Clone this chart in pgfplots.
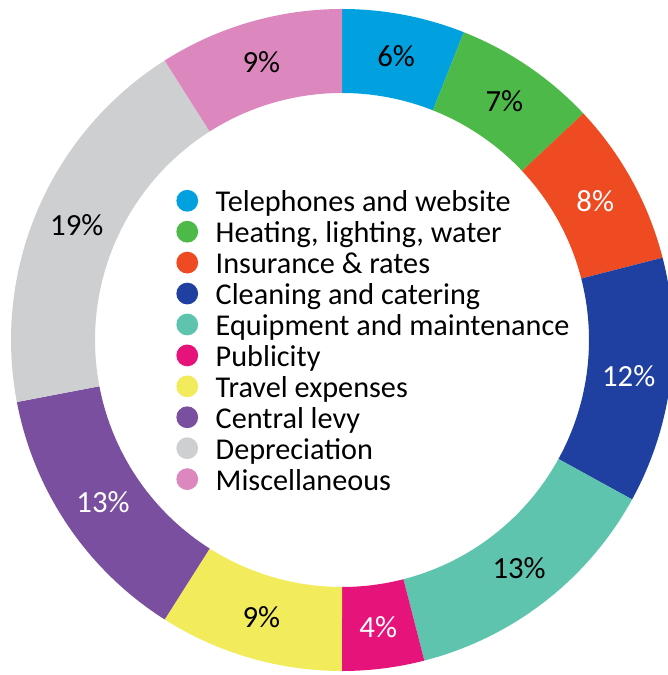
\documentclass[border=0pt]{standalone}
\usepackage{fontspec}
\setmainfont{Carlito}
\usepackage{pgfplots}
\pgfplotsset{compat=1.18}
\usepgfplotslibrary{fillbetween}
\definecolor{cTel}{RGB}{0,161,222}
\definecolor{cHeat}{RGB}{77,185,72}
\definecolor{cIns}{RGB}{238,75,35}
\definecolor{cClean}{RGB}{31,64,160}
\definecolor{cEquip}{RGB}{95,196,174}
\definecolor{cPub}{RGB}{230,19,122}
\definecolor{cTravel}{RGB}{242,236,92}
\definecolor{cLevy}{RGB}{122,79,160}
\definecolor{cDep}{RGB}{205,207,208}
\definecolor{cMisc}{RGB}{220,136,191}
% #1 start (cumulative %), #2 end (cumulative %), #3 name, #4 colour
\newcommand{\slice}[4]{%
  \addplot[draw=none, name path=o#3, domain={90-3.6*(#2)}:{90-3.6*(#1)}, samples=90, forget plot] ({331*cos(x)},{331*sin(x)});
  \addplot[draw=none, name path=i#3, domain={90-3.6*(#2)}:{90-3.6*(#1)}, samples=90, forget plot] ({247*cos(x)},{247*sin(x)});
  \addplot[fill=#4, draw=none, forget plot] fill between[of=o#3 and i#3];
}
\newcommand{\slabel}[4]{%
  \node[text=#4, font=\fontsize{17.5}{20}\selectfont, inner sep=0pt] at (axis cs:{289*cos(90-1.8*(#1+#2))},{289*sin(90-1.8*(#1+#2))}) {#3};
}
\begin{document}
\begin{tikzpicture}
\begin{axis}[
  scale only axis, width=13.36cm, height=13.5cm,
  xmin=-342, xmax=326, ymin=-335, ymax=340,
  hide axis, clip=true,
  legend cell align=left,
  legend image code/.code={\fill[#1, draw=none] (0pt,2pt) circle (6.2pt);},
  legend style={at={(axis cs:-166,151)}, anchor=north west, draw=none, fill=none,
    inner sep=0pt, font=\fontsize{17.2}{20}\selectfont, row sep=0.6pt,
    nodes={inner xsep=0pt, inner ysep=0pt, text height=12.7pt, text depth=4.3pt},
    /tikz/every odd column/.style={column sep=10pt}},
]
\slice{0}{6}{A}{cTel}
\slice{6}{13}{B}{cHeat}
\slice{13}{21}{C}{cIns}
\slice{21}{33}{D}{cClean}
\slice{33}{46}{E}{cEquip}
\slice{46}{50}{F}{cPub}
\slice{50}{59}{G}{cTravel}
\slice{59}{72}{H}{cLevy}
\slice{72}{91}{I}{cDep}
\slice{91}{100}{J}{cMisc}
\slabel{0}{6}{6\%}{black}
\slabel{6}{13}{7\%}{black}
\slabel{13}{21}{8\%}{white}
\slabel{21}{33}{12\%}{white}
\slabel{33}{46}{13\%}{black}
\slabel{46}{50}{4\%}{white}
\slabel{50}{59}{9\%}{black}
\slabel{59}{72}{13\%}{white}
\slabel{72}{91}{19\%}{black}
\slabel{91}{100}{9\%}{black}
\addlegendimage{fill=cTel}\addlegendentry{Telephones and website}
\addlegendimage{fill=cHeat}\addlegendentry{Heating, lighting, water}
\addlegendimage{fill=cIns}\addlegendentry{Insurance \& rates}
\addlegendimage{fill=cClean}\addlegendentry{Cleaning and catering}
\addlegendimage{fill=cEquip}\addlegendentry{Equipment and maintenance}
\addlegendimage{fill=cPub}\addlegendentry{Publicity}
\addlegendimage{fill=cTravel}\addlegendentry{Travel expenses}
\addlegendimage{fill=cLevy}\addlegendentry{Central levy}
\addlegendimage{fill=cDep}\addlegendentry{Depreciation}
\addlegendimage{fill=cMisc}\addlegendentry{Miscellaneous}
\end{axis}
\pgfresetboundingbox
\path (current axis.south west) rectangle (current axis.north east);
\end{tikzpicture}
\end{document}
